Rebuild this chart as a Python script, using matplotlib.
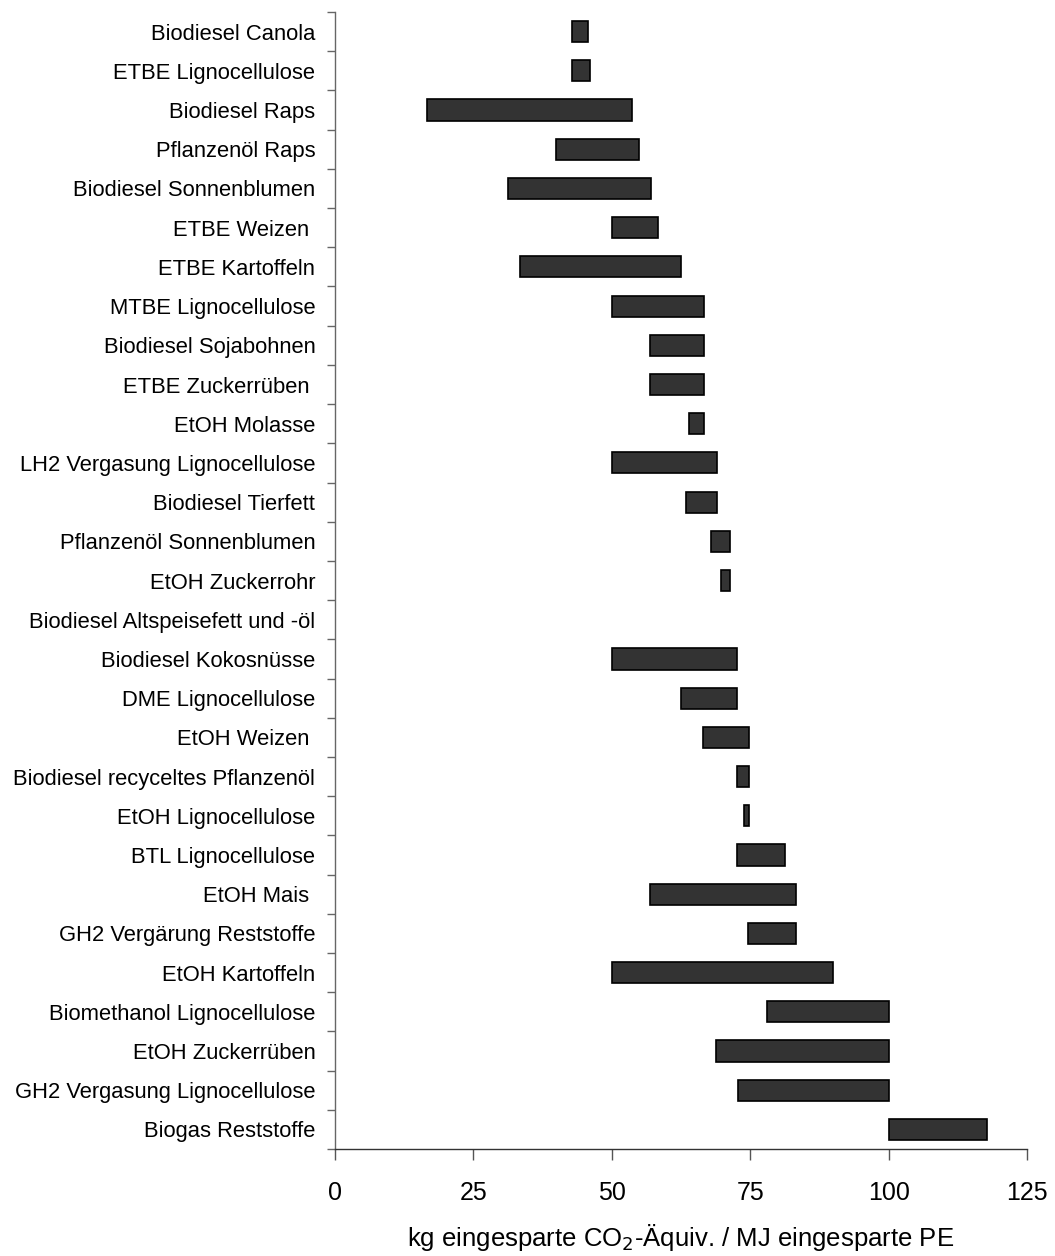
import numpy as np
import matplotlib

matplotlib.use("Agg")
import matplotlib.pyplot as plt

plt.rcParams["font.family"] = ["Liberation Sans", "DejaVu Sans"]

# categories from top to bottom
CATEGORIES = [
    "Biodiesel Canola",
    "ETBE Lignocellulose",
    "Biodiesel Raps",
    "Pflanzenöl Raps",
    "Biodiesel Sonnenblumen",
    "ETBE Weizen ",
    "ETBE Kartoffeln",
    "MTBE Lignocellulose",
    "Biodiesel Sojabohnen",
    "ETBE Zuckerrüben ",
    "EtOH Molasse",
    "LH2 Vergasung Lignocellulose",
    "Biodiesel Tierfett",
    "Pflanzenöl Sonnenblumen",
    "EtOH Zuckerrohr",
    "Biodiesel Altspeisefett und -öl",
    "Biodiesel Kokosnüsse",
    "DME Lignocellulose",
    "EtOH Weizen ",
    "Biodiesel recyceltes Pflanzenöl",
    "EtOH Lignocellulose",
    "BTL Lignocellulose",
    "EtOH Mais ",
    "GH2 Vergärung Reststoffe",
    "EtOH Kartoffeln",
    "Biomethanol Lignocellulose",
    "EtOH Zuckerrüben",
    "GH2 Vergasung Lignocellulose",
    "Biogas Reststoffe",
]

LOW = [
    42.9, 42.9, 16.6, 39.9, 31.2, 50.0, 33.4, 50.0, 57.0, 57.0,
    64.0, 50.0, 63.4, 68.0, 69.8, np.nan, 50.0, 62.5, 66.5, 72.6,
    73.9, 72.6, 57.0, 74.7, 50.0, 78.1, 68.9, 72.9, 100.0,
]
HIGH = [
    45.8, 46.1, 53.7, 54.9, 57.1, 58.3, 62.6, 66.6, 66.6, 66.6,
    66.6, 69.0, 69.0, 71.4, 71.4, np.nan, 72.6, 72.6, 74.8, 74.8,
    74.8, 81.3, 83.2, 83.2, 89.9, 100.0, 100.0, 100.0, 117.7,
]

X_TICKS = [0, 25, 50, 75, 100, 125]
X_LABEL = "kg eingesparte CO$_2$-Äquiv. / MJ eingesparte PE"


def main() -> None:
    fig = plt.figure(figsize=(10.55, 12.56), dpi=100)
    ax = fig.add_axes([0.3173, 0.0852, 0.6562, 0.9052])

    low = np.array(LOW)
    high = np.array(HIGH)
    y = np.arange(len(CATEGORIES))
    ax.barh(y, high - low, left=low, height=0.54,
            color="#333333", edgecolor="black", linewidth=1.2)

    ax.set_xlim(0, 125)
    ax.set_ylim(len(CATEGORIES) - 0.5, -0.5)

    ax.set_yticks(y)
    ax.set_yticklabels(CATEGORIES, fontsize=15.8)
    ax.set_yticks(np.arange(len(CATEGORIES) + 1) - 0.5, minor=True)
    ax.tick_params(axis="y", which="major", length=0, pad=14)
    ax.tick_params(axis="y", which="minor", length=6, width=1, color="#666666")

    ax.set_xticks(X_TICKS)
    ax.set_xticklabels([str(t) for t in X_TICKS], fontsize=18)
    ax.tick_params(axis="x", length=8, width=1, color="#555555", pad=15)
    ax.set_xlabel(X_LABEL, fontsize=18.5, labelpad=12)

    for side in ("top", "right"):
        ax.spines[side].set_visible(False)
    ax.spines["left"].set_color("#666666")
    ax.spines["bottom"].set_color("#333333")
    for side in ("left", "bottom"):
        ax.spines[side].set_linewidth(1.0)

    fig.savefig("out.png", dpi=100)


if __name__ == "__main__":
    main()
